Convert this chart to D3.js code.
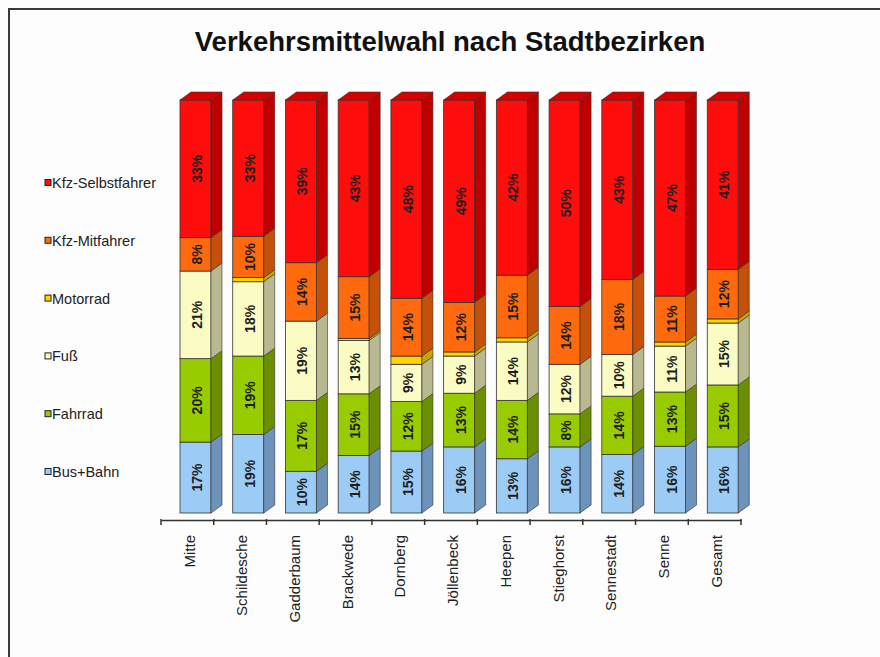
<!DOCTYPE html>
<html>
<head>
<meta charset="utf-8">
<script src="https://cdn.jsdelivr.net/npm/d3@7"></script>
<style>
  body { margin: 0; background: #fff; }
  svg { display: block; font-family: "Liberation Sans", Arial, sans-serif; }
</style>
</head>
<body>
<div id="chart"></div>
<script>
const categories = ["Mitte", "Schildesche", "Gadderbaum", "Brackwede", "Dornberg", "Jöllenbeck",
  "Heepen", "Stieghorst", "Sennestadt", "Senne", "Gesamt"];

// shares in percent, bottom to top
const busBahn      = [17, 19, 10, 14, 15, 16, 13, 16, 14, 16, 16];
const fahrrad      = [20, 19, 17, 15, 12, 13, 14, 8, 14, 13, 15];
const fuss         = [21, 18, 19, 13, 9, 9, 14, 12, 10, 11, 15];
const motorrad     = [0, 1, 0, 0.5, 2, 1, 1, 0, 0, 1, 1];
const mitfahrer    = [8, 10, 14, 15, 14, 12, 15, 14, 18, 11, 12];
const selbstfahrer = [33, 33, 39, 43, 48, 49, 42, 50, 43, 47, 41];

const seriesNames = ["Bus+Bahn", "Fahrrad", "Fuß", "Motorrad", "Kfz-Mitfahrer", "Kfz-Selbstfahrer"];
const seriesValues = [busBahn, fahrrad, fuss, motorrad, mitfahrer, selbstfahrer];

// front, side, top colours per series
const colors = [
  ["#9ccbf5", "#6d93bb", "#86b0d8"],
  ["#99cc00", "#6b8f00", "#7fae00"],
  ["#fbfbc4", "#b9b991", "#dcdcaa"],
  ["#ffd200", "#c9a400", "#e6bc00"],
  ["#ff6a0e", "#c4500a", "#e05c0c"],
  ["#ff0d0d", "#c00000", "#d60000"]
];

const W = 880, H = 657;
const dx = 11, dy = 8;

const table = categories.map((c, i) => {
  const row = { cat: c };
  seriesNames.forEach((s, j) => row[s] = seriesValues[j][i]);
  return row;
});

const stacked = d3.stack()
  .keys(seriesNames)
  .offset(d3.stackOffsetExpand)(table);

const svg = d3.select("#chart").append("svg")
  .attr("width", W).attr("height", H);

svg.append("rect").attr("width", W).attr("height", H).attr("fill", "#fdfdfd");

// frame (top and left edges visible)
svg.append("path")
  .attr("d", "M9,657 L9,9 L880,9")
  .attr("fill", "none").attr("stroke", "#3a3a3a").attr("stroke-width", 2);

svg.append("text")
  .attr("x", 450).attr("y", 51)
  .attr("text-anchor", "middle")
  .attr("font-size", 27.5).attr("font-weight", "bold")
  .attr("fill", "#111")
  .text("Verkehrsmittelwahl nach Stadtbezirken");

const x = d3.scaleBand()
  .domain(categories)
  .range([161, 741]);

const y = d3.scaleLinear()
  .domain([0, 1])
  .range([513, 100]);

const barW = 31, barOff = 19;

// axis
const axis = svg.append("g")
  .attr("transform", "translate(0,520)")
  .call(d3.axisBottom(x).tickSize(0).tickFormat(""));
axis.select(".domain").attr("stroke", "#333").attr("stroke-width", 1.5);
axis.selectAll(".tk")
  .data(d3.range(categories.length + 1))
  .enter().append("line")
  .attr("x1", i => 161 + i * x.step())
  .attr("x2", i => 161 + i * x.step())
  .attr("y1", -1).attr("y2", 5)
  .attr("stroke", "#333").attr("stroke-width", 1.5);

svg.append("g").selectAll("text")
  .data(categories)
  .enter().append("text")
  .attr("transform", d => "translate(" + (x(d) + barOff + barW / 2 - 1) + ",535) rotate(-90)")
  .attr("text-anchor", "end")
  .attr("font-size", 15)
  .attr("fill", "#222")
  .text(d => d);

// bars
const bars = svg.append("g");
categories.forEach((c, i) => {
  const x0 = x(c) + barOff, x1 = x0 + barW;
  const g = bars.append("g");
  let topIdx = -1;
  stacked.forEach((s, j) => { if (s[i][1] - s[i][0] > 0) topIdx = j; });
  stacked.forEach((s, j) => {
    const v0 = s[i][0], v1 = s[i][1];
    if (v1 - v0 <= 0) return;
    const yb = y(v0), yt = y(v1);
    const col = colors[j];
    g.append("rect")
      .attr("x", x0).attr("y", yt)
      .attr("width", barW).attr("height", yb - yt)
      .attr("fill", col[0]).attr("stroke", "#333").attr("stroke-width", 0.8);
    g.append("path")
      .attr("d", `M${x1},${yb} L${x1},${yt} L${x1 + dx},${yt - dy} L${x1 + dx},${yb - dy} Z`)
      .attr("fill", col[1]).attr("stroke", "#333").attr("stroke-width", 0.6);
    if (j === topIdx) {
      g.append("path")
        .attr("d", `M${x0},${yt} L${x0 + dx},${yt - dy} L${x1 + dx},${yt - dy} L${x1},${yt} Z`)
        .attr("fill", col[2]).attr("stroke", "#333").attr("stroke-width", 0.6);
    }
    const val = seriesValues[j][i];
    if (val >= 5) {
      g.append("text")
        .attr("transform", `translate(${x0 + barW / 2 + 6.5},${(yb + yt) / 2}) rotate(-90)`)
        .attr("text-anchor", "middle")
        .attr("font-size", 14).attr("font-weight", "bold")
        .attr("fill", "#1e1e1e")
        .text(val + "%");
    }
  });
});

// legend
const legend = svg.append("g");
const legendOrder = seriesNames.slice().reverse();
legendOrder.forEach((name, k) => {
  const j = seriesNames.indexOf(name);
  const cy = 183 + k * 57.8;
  legend.append("rect")
    .attr("x", 45).attr("y", cy - 3.5)
    .attr("width", 6).attr("height", 6)
    .attr("fill", colors[j][0]).attr("stroke", "#222").attr("stroke-width", 1);
  legend.append("text")
    .attr("x", 52).attr("y", cy + 5)
    .attr("font-size", 14.5).attr("fill", "#222")
    .text(name);
});
</script>
</body>
</html>
